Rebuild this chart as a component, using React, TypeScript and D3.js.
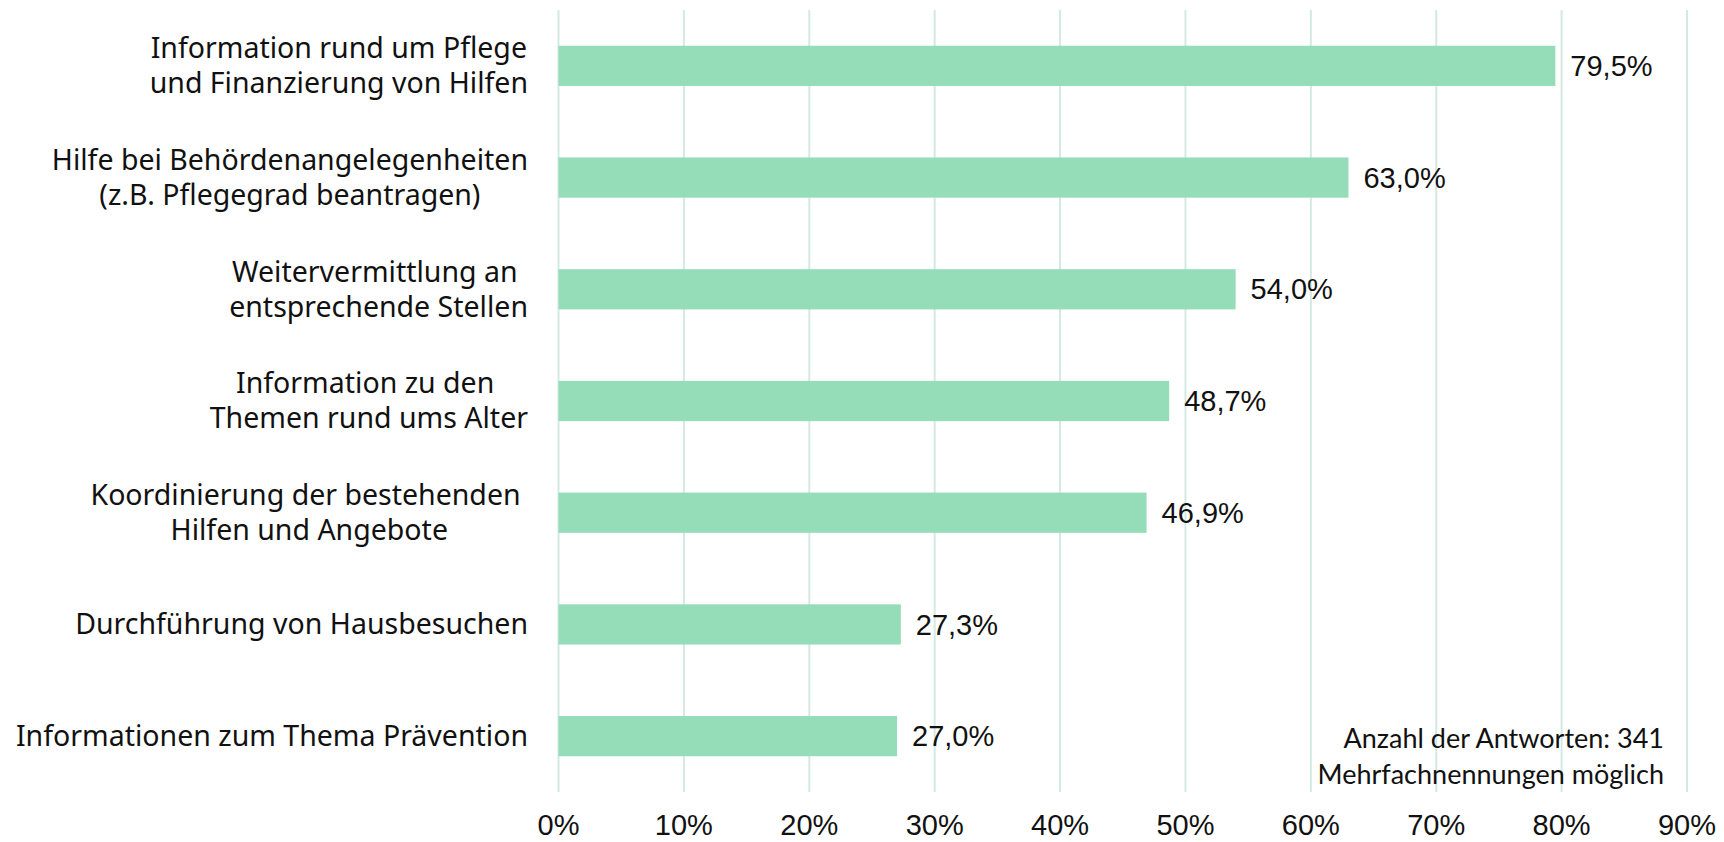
import React, { useEffect, useRef } from "react";
import * as d3 from "d3";

const categories: string[][] = [
  ["Information rund um Pflege", "und Finanzierung von Hilfen"],
  ["Hilfe bei Behördenangelegenheiten", "(z.B. Pflegegrad beantragen)"],
  ["Weitervermittlung an ", "entsprechende Stellen"],
  ["Information zu den ", "Themen rund ums Alter"],
  ["Koordinierung der bestehenden ", "Hilfen und Angebote"],
  ["Durchführung von Hausbesuchen"],
  ["Informationen zum Thema Prävention"],
];
const values = [79.5, 63.0, 54.0, 48.7, 46.9, 27.3, 27.0];
const xTicks = [0, 10, 20, 30, 40, 50, 60, 70, 80, 90];
const noteLines = ["Anzahl der Antworten: 341", "Mehrfachnennungen möglich"];

const W = 1724;
const H = 842;
const fmt = (v: number) => v.toFixed(1).replace(".", ",") + "%";

export default function App() {
  const svgRef = useRef<SVGSVGElement>(null);

  useEffect(() => {
    const svg = d3.select(svgRef.current);
    svg.selectAll("*").remove();

    const x = d3.scaleLinear().domain([0, 90]).range([558.5, 1687]);
    const y = d3
      .scaleBand<number>()
      .domain(d3.range(categories.length))
      .range([10, 792])
      .paddingInner(0.64)
      .paddingOuter(0.32);

    // gridlines
    svg
      .append("g")
      .selectAll("line")
      .data(xTicks)
      .join("line")
      .attr("x1", (d) => x(d))
      .attr("x2", (d) => x(d))
      .attr("y1", 10)
      .attr("y2", 792)
      .attr("stroke", "#d3e9e3")
      .attr("stroke-width", 2);

    // bars
    svg
      .append("g")
      .selectAll("rect")
      .data(values)
      .join("rect")
      .attr("x", x(0))
      .attr("y", (_, i) => y(i)!)
      .attr("width", (d) => x(d) - x(0))
      .attr("height", y.bandwidth())
      .attr("fill", "#94ddb8");

    // value labels
    svg
      .append("g")
      .selectAll("text")
      .data(values)
      .join("text")
      .attr("x", (d) => x(d) + 15)
      .attr("y", (_, i) => y(i)! + y.bandwidth() / 2)
      .attr("dy", "0.35em")
      .attr("font-family", "'Liberation Sans', Arial, sans-serif")
      .attr("font-size", 29)
      .attr("fill", "#111")
      .text((d) => fmt(d));

    // tick labels
    svg
      .append("g")
      .selectAll("text")
      .data(xTicks)
      .join("text")
      .attr("x", (d) => x(d))
      .attr("y", 835)
      .attr("text-anchor", "middle")
      .attr("font-family", "'Liberation Sans', Arial, sans-serif")
      .attr("font-size", 29)
      .attr("fill", "#111")
      .text((d) => d + "%");

    // category labels: centered block, right edge at 528
    const right = 528;
    const lineH = 35;
    categories.forEach((lines, i) => {
      const cy = y(i)! + y.bandwidth() / 2;
      const g = svg.append("g");
      const texts = lines.map((l, j) =>
        g
          .append("text")
          .attr("y", cy + (j - (lines.length - 1) / 2) * lineH)
          .attr("dy", "0.35em")
          .attr("text-anchor", "middle")
          .attr("font-family", "'Noto Sans', Roboto, sans-serif")
          .attr("font-size", 28.5)
          .attr("fill", "#111")
          .style("white-space", "pre")
          .text(l)
      );
      const maxW = d3.max(texts, (t) => (t.node() as SVGTextElement).getComputedTextLength()) ?? 0;
      texts.forEach((t) => t.attr("x", right - maxW / 2));
    });

    // note
    svg
      .append("g")
      .selectAll("text")
      .data(noteLines)
      .join("text")
      .attr("x", 1664)
      .attr("y", (_, i) => 739 + i * 36)
      .attr("dy", "0.35em")
      .attr("text-anchor", "end")
      .attr("font-family", "Lato, 'Open Sans', sans-serif")
      .attr("font-size", 27)
      .attr("fill", "#111")
      .text((d) => d);
  }, []);

  return (
    <div style={{ position: "absolute", left: 0, top: 0, width: W, height: H, background: "#fff" }}>
      <svg ref={svgRef} width={W} height={H}></svg>
    </div>
  );
}
